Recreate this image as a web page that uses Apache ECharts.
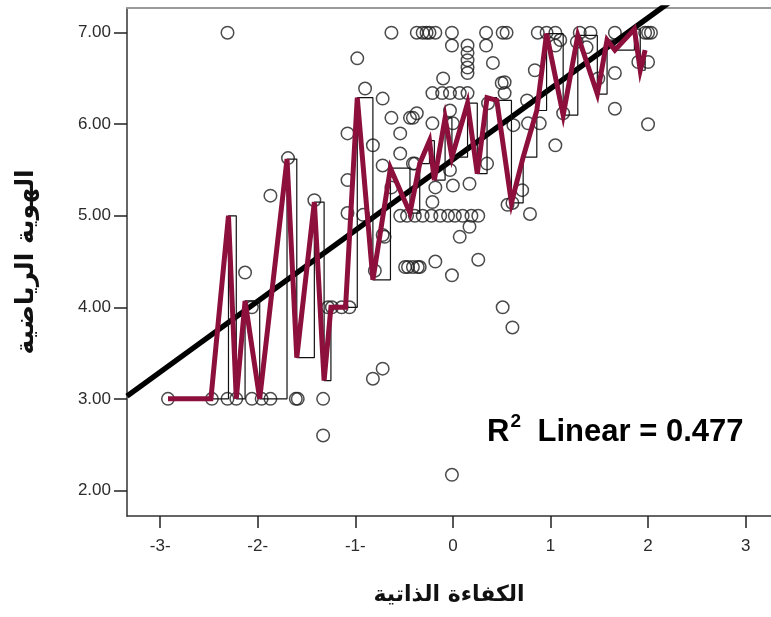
<!DOCTYPE html>
<html>
<head>
<meta charset="utf-8">
<script src="https://cdn.jsdelivr.net/npm/echarts@6/dist/echarts.min.js"></script>
<style>
html,body{margin:0;padding:0;background:#fff;}
#chart{width:771px;height:617px;}
</style>
</head>
<body>
<div id="chart"></div>
<script>
// ---- axis ticks ----
const xTicks = [-3, -2, -1, 0, 1, 2, 3];
const xTickLabels = ['-3-', '-2-', '-1-', '0', '1', '2', '3'];
const yTicks = [2, 3, 4, 5, 6, 7];
const yTickLabels = ['2.00', '3.00', '4.00', '5.00', '6.00', '7.00'];
const xName = 'الكفاءة الذاتية';
const yName = 'الهوية الرياضية';

// ---- observed cases (self-efficacy z-score, math identity) ----
const caseX = [
  -2.92,-2.47,-2.31,-2.22,-2.06,-1.96,-1.87,-1.61,-1.59,-1.33,
  -1.33,-2.31,-2.13,-2.06,-1.87,-1.69,-1.42,-1.28,-1.24,-1.14,-1.06,
  -0.82,-0.72,-0.98,-0.90,-0.72,-0.63,-0.63,-0.44,-0.37,-0.54,-1.08,-0.82,-0.54,-0.72,-0.39,-1.08,-0.63,-1.08,-0.92,-0.70,-0.80,-0.49,-0.46,-0.36,
  -0.37,-0.31,-0.27,-0.24,-0.18,-0.01,0.34,0.51,0.87,0.96,1.05,1.30,1.41,1.66,1.97,2.00,2.03,0.55,
  -0.01,0.34,1.05,1.10,1.27,1.37,0.15,
  0.15,0.15,0.15,0.15,
  0.41,-0.10,0.50,0.53,0.84,1.49,1.66,1.90,2.00,
  -0.21,-0.11,-0.03,0.07,0.15,0.53,
  -0.41,-0.21,-0.03,0.00,0.36,0.76,0.62,0.77,0.89,1.13,1.66,2.00,
  -0.41,-0.03,-0.18,0.00,0.17,0.35,-0.21,0.56,0.71,0.61,0.79,1.05,
  -0.54,-0.47,-0.39,-0.31,-0.22,-0.13,-0.05,0.02,0.10,0.19,0.26,
  0.07,0.17,-0.41,-0.34,-0.18,0.26,-0.01,-0.72,
  0.51,0.61,-0.01
];
const caseY = [
  3.00,3.00,3.00,3.00,3.00,3.00,3.00,3.00,3.00,3.00,
  2.60,7.00,4.38,4.00,5.22,5.63,5.17,4.00,4.00,4.00,4.00,
  3.22,3.33,6.72,6.39,6.28,7.00,6.07,6.07,6.12,5.90,5.90,5.77,5.68,5.55,5.57,5.39,5.31,5.03,5.01,4.77,4.40,4.44,4.44,4.44,
  7.00,7.00,7.00,7.00,7.00,7.00,7.00,7.00,7.00,7.00,7.00,7.00,7.00,7.00,7.00,7.00,7.00,7.00,
  6.86,6.86,6.86,6.92,6.90,6.84,6.86,
  6.78,6.70,6.62,6.56,
  6.67,6.50,6.45,6.46,6.59,6.50,6.56,6.68,6.68,
  6.34,6.34,6.34,6.34,6.34,6.34,
  6.07,6.01,6.15,6.01,6.23,6.26,5.99,6.01,6.01,6.12,6.17,6.00,
  5.57,5.50,5.31,5.33,5.35,5.57,5.15,5.12,5.28,5.14,5.02,5.77,
  5.00,5.00,5.00,5.00,5.00,5.00,5.00,5.00,5.00,5.00,5.00,
  4.77,4.88,4.44,4.44,4.50,4.52,4.35,4.79,
  4.00,3.78,2.17
];

// ---- mean line (interpolated through sorted x) ----
const meanX = [-2.92,-2.48,-2.30,-2.22,-2.13,-1.98,-1.70,-1.60,-1.42,-1.32,-1.25,-1.10,-0.98,-0.82,-0.64,-0.44,-0.34,-0.24,-0.19,-0.08,-0.01,0.15,0.25,0.35,0.45,0.60,0.72,0.86,0.96,1.13,1.28,1.48,1.58,1.66,1.86,1.92,1.97];
const meanY = [3.00,3.00,5.00,3.00,4.07,3.00,5.62,3.45,5.15,3.20,4.00,4.00,6.29,4.30,5.52,5.03,5.57,5.82,5.39,6.07,5.64,6.23,5.46,6.29,6.26,5.14,5.64,6.15,6.99,6.10,6.97,6.33,6.92,6.81,7.04,6.59,6.81];

// ---- linear fit ----
const fitIntercept = 5.615;
const fitSlope = 0.774;
const rSquared = 0.477;

const xMin = -3.34, xMax = 3.26, yMin = 1.72, yMax = 7.27;

const points = caseX.map((x, i) => [x, caseY[i]]);
const means = meanX.map((x, i) => [x, meanY[i]]);
const fit = [[xMin, fitIntercept + fitSlope * xMin], [xMax, fitIntercept + fitSlope * xMax]];

const labelFont = {fontFamily: 'Liberation Sans, Arial, sans-serif', fontSize: 17, color: '#2b2b2b'};
const nameFontX = {fontFamily: 'DejaVu Sans', fontSize: 22, fontWeight: 'bold', color: '#111'};
const nameFontY = {fontFamily: 'DejaVu Sans', fontSize: 25, fontWeight: 'bold', color: '#111'};
const annFont = {fontFamily: 'Liberation Sans, Arial', fontWeight: 'bold', fill: '#000'};

const chart = echarts.init(document.getElementById('chart'), null, {renderer: 'canvas'});
chart.setOption({
  animation: false,
  backgroundColor: '#fff',
  grid: {left: 127, top: 8, right: 0, bottom: 101, show: false},
  xAxis: [{
    type: 'value', min: xMin, max: xMax,
    name: xName, nameLocation: 'middle', nameGap: 68, nameTextStyle: nameFontX,
    splitLine: {show: false},
    axisLine: {show: true, onZero: false, lineStyle: {color: '#333', width: 1.5}},
    axisTick: {show: true, customValues: xTicks, length: 12, lineStyle: {color: '#222', width: 1.5}},
    axisLabel: Object.assign({customValues: xTicks, margin: 22,
      formatter: v => xTickLabels[xTicks.indexOf(Math.round(v))]}, labelFont)
  }, {
    type: 'value', min: xMin, max: xMax, position: 'top',
    splitLine: {show: false}, axisTick: {show: false}, axisLabel: {show: false},
    axisLine: {show: true, onZero: false, lineStyle: {color: '#9a9a9a', width: 2}}
  }],
  yAxis: {
    type: 'value', min: yMin, max: yMax,
    name: yName, nameLocation: 'middle', nameGap: 88, nameRotate: 90, nameTextStyle: nameFontY,
    splitLine: {show: false},
    axisLine: {show: true, onZero: false, lineStyle: {color: '#333', width: 1.5}},
    axisTick: {show: true, customValues: yTicks, length: 13, lineStyle: {color: '#222', width: 1.5}},
    axisLabel: Object.assign({customValues: yTicks, margin: 16,
      formatter: v => yTickLabels[yTicks.indexOf(Math.round(v))]}, labelFont)
  },
  series: [
    {type: 'scatter', data: points, symbol: 'circle', symbolSize: 12.5, z: 2,
      itemStyle: {color: 'rgba(255,255,255,0)', borderColor: '#1e1e1e', borderWidth: 1.5}},
    {type: 'line', data: fit, symbol: 'none', z: 3, clip: true,
      lineStyle: {color: '#000', width: 5.5}},
    {type: 'line', data: means, step: 'end', symbol: 'none', z: 4,
      lineStyle: {color: '#111', width: 1.2}},
    {type: 'line', data: means, symbol: 'none', z: 5,
      lineStyle: {color: '#8c0f3c', width: 5, join: 'miter', miterLimit: 6}}
  ],
  graphic: [{
    type: 'text', left: 487, top: 412, z: 10,
    style: {
      text: '{r|R}{s|2}{t| Linear = ' + rSquared.toFixed(3) + '}',
      rich: {
        r: Object.assign({fontSize: 31, verticalAlign: 'bottom', lineHeight: 36}, annFont),
        s: Object.assign({fontSize: 19, verticalAlign: 'top', lineHeight: 36, padding: [0, 8, 0, 1]}, annFont),
        t: Object.assign({fontSize: 31, verticalAlign: 'bottom', lineHeight: 36}, annFont)
      }
    }
  }]
});
</script>
</body>
</html>
